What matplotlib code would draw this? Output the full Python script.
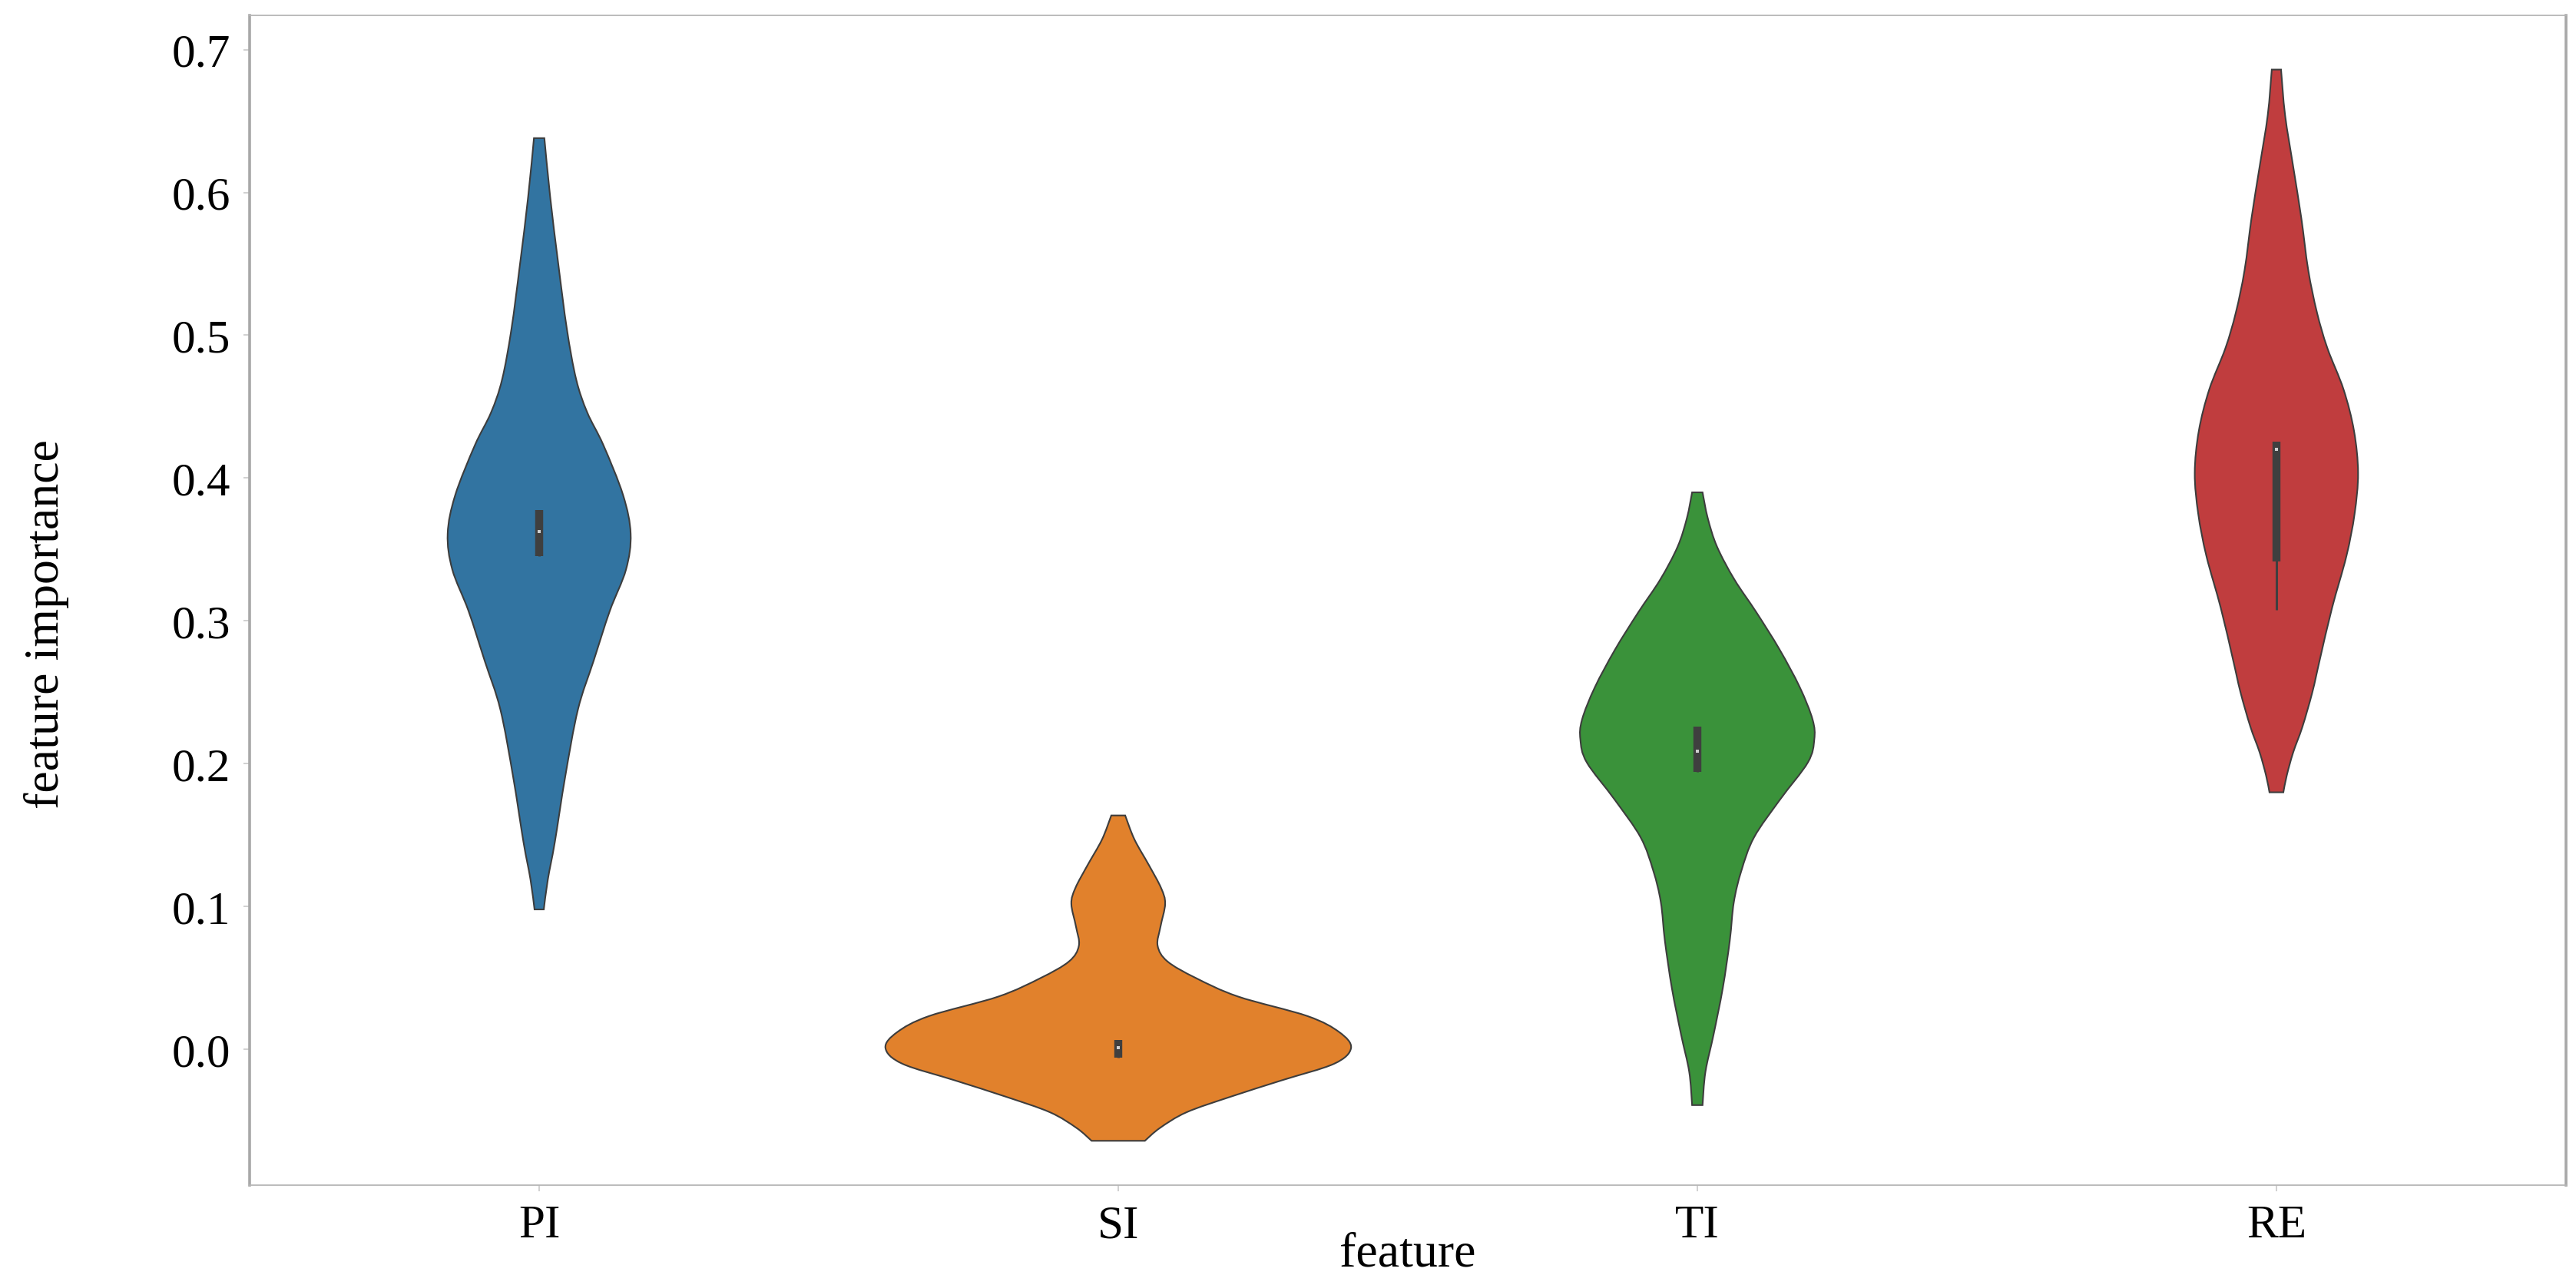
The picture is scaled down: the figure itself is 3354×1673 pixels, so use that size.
import numpy as np
import matplotlib
matplotlib.use("Agg")
import matplotlib.pyplot as plt
from matplotlib.path import Path
from matplotlib.patches import PathPatch

# ---- data ----
features = ["PI", "SI", "TI", "RE"]
colors = ["#3274a1", "#e1812c", "#3a923a", "#c03d3e"]

# violin outlines: level (feature importance) and half-width (category units)
pi_y  = [0.098, 0.119, 0.145, 0.191, 0.238, 0.272, 0.307, 0.336, 0.361, 0.388, 0.423, 0.446, 0.469, 0.504, 0.550, 0.597, 0.638]
pi_hw = [0.008, 0.015, 0.027, 0.045, 0.067, 0.094, 0.122, 0.150, 0.158, 0.145, 0.111, 0.083, 0.064, 0.048, 0.033, 0.019, 0.009]

si_y  = [-0.064, -0.055, -0.044, -0.033, -0.0217, -0.010, 0.001, 0.012, 0.0233, 0.037, 0.050, 0.0616, 0.0726, 0.086, 0.102, 0.113, 0.129, 0.147, 0.1638]
si_hw = [0.046, 0.072, 0.118, 0.195, 0.282, 0.373, 0.402, 0.382, 0.327, 0.207, 0.134, 0.085, 0.068, 0.073, 0.081, 0.074, 0.053, 0.028, 0.012]

ti_y  = [-0.039, -0.0157, 0.0103, 0.043, 0.076, 0.103, 0.125, 0.1485, 0.175, 0.201, 0.217, 0.231, 0.2535, 0.280, 0.306, 0.329, 0.352, 0.372, 0.390]
ti_hw = [0.009, 0.014, 0.028, 0.044, 0.056, 0.063, 0.076, 0.098, 0.143, 0.191, 0.202, 0.199, 0.177, 0.142, 0.102, 0.064, 0.034, 0.018, 0.009]

re_y  = [0.180, 0.192, 0.208, 0.226, 0.250, 0.273, 0.309, 0.3456, 0.375, 0.4036, 0.433, 0.462, 0.491, 0.516, 0.5455, 0.582, 0.618, 0.654, 0.686]
re_hw = [0.012, 0.018, 0.029, 0.045, 0.062, 0.075, 0.096, 0.121, 0.135, 0.141, 0.134, 0.116, 0.088, 0.070, 0.055, 0.043, 0.029, 0.015, 0.008]

levels = [pi_y, si_y, ti_y, re_y]
halfwidths = [pi_hw, si_hw, ti_hw, re_hw]

# inner box: quartiles, median, whiskers
q1 = [0.3456, -0.006, 0.1945, 0.3415]
q3 = [0.3776, 0.0065, 0.226, 0.4255]
medians = [0.3624, 0.001, 0.209, 0.420]
whisk_lo = [0.3456, -0.006, 0.1945, 0.3077]
whisk_hi = [0.3776, 0.0065, 0.226, 0.4255]

yticks = [0.0, 0.1, 0.2, 0.3, 0.4, 0.5, 0.6, 0.7]


def bezier_through(pts):
    # cubic bezier segments passing through every point (catmull-rom style)
    pts = np.asarray(pts, dtype=float)
    verts, codes = [], []
    n = len(pts)
    for i in range(n - 1):
        p0 = pts[i - 1] if i > 0 else pts[i]
        p1, p2 = pts[i], pts[i + 1]
        p3 = pts[i + 2] if i + 2 < n else pts[i + 1]
        verts += [p1 + (p2 - p0) / 6, p2 - (p3 - p1) / 6, p2]
        codes += [Path.CURVE4] * 3
    return verts, codes


plt.rcParams["font.family"] = ["Liberation Serif", "DejaVu Serif"]

fig = plt.figure(figsize=(33.54, 16.74), dpi=100)
ax = fig.add_axes([0.0969, 0.0777, 0.8992, 0.9098])

for i, (ys, hws) in enumerate(zip(levels, halfwidths)):
    ys = np.asarray(ys)
    hws = np.asarray(hws)
    right = np.column_stack([i + hws, ys])
    left = np.column_stack([i - hws, ys])[::-1]
    rv, rc = bezier_through(right)
    lv, lc = bezier_through(left)
    verts = [right[0]] + rv + [left[0]] + lv + [right[0]]
    codes = [Path.MOVETO] + rc + [Path.LINETO] + lc + [Path.CLOSEPOLY]
    ax.add_patch(PathPatch(Path(verts, codes), facecolor=colors[i],
                           edgecolor="#3d3d3d", linewidth=1.5, zorder=2))

    # inner box
    ax.plot([i, i], [whisk_lo[i], whisk_hi[i]], color="#3f3f3f", lw=2.2,
            solid_capstyle="butt", zorder=3)
    ax.plot([i, i], [q1[i], q3[i]], color="#3f3f3f", lw=7.5,
            solid_capstyle="butt", zorder=4)
    ax.scatter([i], [medians[i]], s=6, marker="s", color="#cfcfcf",
               linewidths=0, zorder=5)

ax.set_xlim(-0.5, 3.5)
ax.set_ylim(-0.095, 0.724)
ax.set_xticks(range(len(features)))
ax.set_xticklabels(features)
ax.set_yticks(yticks)
ax.set_yticklabels([f"{t:.1f}" for t in yticks])
ax.tick_params(axis="both", labelsize=44, color="#c8c8c8", length=6,
               width=1.2, pad=12)

for side in ["top", "bottom"]:
    ax.spines[side].set_color("#b5b5b5")
    ax.spines[side].set_linewidth(1.3)
for side in ["left", "right"]:
    ax.spines[side].set_color("#a8a8a8")
    ax.spines[side].set_linewidth(2.6)

ax.set_xlabel("feature", fontsize=46)
ax.set_ylabel("feature importance", fontsize=46)
ax.xaxis.set_label_coords(0.5, -0.04)
ax.yaxis.set_label_coords(-0.078, 0.48)

fig.savefig("out.png", dpi=100)
